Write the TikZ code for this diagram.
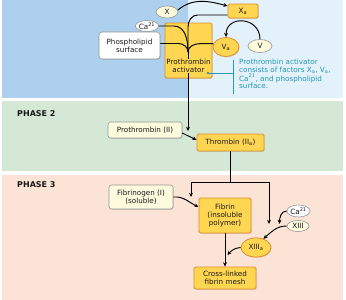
\documentclass[tikz,border=0pt]{standalone}
\usepackage{fontspec}
\setmainfont{DejaVu Sans}
\usetikzlibrary{arrows.meta,shadows,shapes.geometric}
\definecolor{bgdark}{RGB}{172,208,238}
\definecolor{bglight}{RGB}{227,241,251}
\definecolor{bggreen}{RGB}{213,232,214}
\definecolor{bgpeach}{RGB}{251,227,214}
\definecolor{yel}{RGB}{254,214,82}
\definecolor{orb}{RGB}{226,142,42}
\definecolor{cream}{RGB}{253,250,222}
\definecolor{tealc}{RGB}{38,152,186}
\definecolor{grayb}{RGB}{150,150,150}
\definecolor{txt}{RGB}{25,25,25}
\begin{document}
\begin{tikzpicture}[x=1pt,y=1pt,
  font=\fontsize{7.2}{8.2}\selectfont,
  every node/.style={inner sep=0pt,text=txt},
  shd/.style={drop shadow={opacity=0.3,shadow xshift=0.6pt,shadow yshift=-0.8pt}},
  ybox/.style={draw=orb,fill=yel,line width=0.8pt,rounded corners=1.5pt,shd,align=center},
  cbox/.style={draw=grayb,fill=cream,line width=0.6pt,rounded corners=2.5pt,shd,align=center},
  wbox/.style={draw=grayb,fill=white,line width=0.6pt,rounded corners=3pt,shd,align=center},
  yell/.style={ellipse,draw=orb,fill=yel,line width=0.8pt,shd},
  cell/.style={ellipse,draw=grayb,fill=cream,line width=0.6pt},
  well/.style={ellipse,draw=grayb,fill=white,line width=0.6pt},
  link/.style={line width=0.95pt,black},
  arr/.style={link,-{Stealth[length=4.2pt,width=3.8pt]}},
  darr/.style={link,{Stealth[length=4.2pt,width=3.8pt]}-{Stealth[length=4.2pt,width=3.8pt]}},
  phase/.style={font=\fontsize{8}{9}\selectfont\bfseries,anchor=west}]
\useasboundingbox (0,0) rectangle (346,-300);
% backgrounds
\fill[bgdark] (2,0) rectangle (188,-98);
\fill[bglight] (188,0) rectangle (343,-98);
\fill[bggreen] (2,-101) rectangle (343,-171);
\fill[bgpeach] (2,-175) rectangle (343,-300);

% ---------- Phase 1 ----------
\node[cell,minimum width=22,minimum height=12] (x) at (167,-12) {X};
\node[ybox,minimum width=30,minimum height=14] (xa) at (243,-11) {X\textsubscript{a}};
\node[well,minimum width=21,minimum height=11] (ca1) at (147,-26) {Ca\textsuperscript{21}};
\node[wbox,minimum width=61,minimum height=27] (phos) at (129.5,-45.5) {Phospholipid\\surface};
\node[ybox,minimum width=47,minimum height=55] (pa) at (188.5,-50.5) {};
\node[yell,minimum width=26,minimum height=19] (va) at (226,-47) {V\textsubscript{a}};
\node[cell,minimum width=24,minimum height=13] (v) at (260,-46) {V};

\coordinate (m) at (188,-52);
\coordinate (mend) at (188,-131);
\draw[arr] (x.10) to[out=40,in=165] ([yshift=5pt]xa.west);
\draw[link] ([yshift=-4pt]xa.west) -- ++(-30,0) to[out=180,in=90] ([yshift=25pt]m) -- (m);
\draw[link] (ca1.east) -- ++(15,0) to[out=0,in=90] (m);
\draw[link] ([yshift=2pt]phos.east) -- ++(18,0) to[out=0,in=90] (m);
\draw[link] (va.165) -- ++(-13,0) to[out=180,in=90] (m);
\draw[arr] (v.north) to[out=90,in=90,looseness=1.7] (va.north);
\draw[arr] (m) -- (mend);
\node[fill=yel,inner sep=0.6pt,align=center] (patext) at (188.5,-66) {Prothrombin\\activator};

% annotation
\coordinate (dot) at (208,-73);
\coordinate (brk) at (233,-73);
\coordinate (btop) at (233,-60);
\coordinate (bbot) at (233,-94);
\fill[tealc] (dot) circle (1.3pt);
\draw[tealc,line width=0.6pt] (dot) -- (brk);
\draw[tealc,line width=0.6pt] (btop) -- (bbot);
\node[anchor=north west,align=left,text=tealc,font=\fontsize{7.2}{7.5}\selectfont] (note) at (239,-59)
  {Prothrombin activator\\consists of factors X\textsubscript{a}, V\textsubscript{a},\\Ca\textsuperscript{21}, and phospholipid\\surface.};

% ---------- Phase 2 ----------
\node[phase] (p2) at (17,-114) {PHASE 2};
\node[cbox,minimum width=74,minimum height=16] (pII) at (145,-130) {Prothrombin (II)};
\node[ybox,minimum width=67,minimum height=17] (thr) at (230.5,-142.5) {Thrombin (II\textsubscript{a})};
\draw[arr] ([yshift=-3pt]pII.east) -- ([yshift=2.5pt]thr.west);

% ---------- Phase 3 ----------
\node[phase] (p3) at (17,-185) {PHASE 3};
\node[cbox,minimum width=64,minimum height=24] (fgn) at (141,-197) {Fibrinogen (I)\\(soluble)};
\node[ybox,minimum width=52,minimum height=35] (fib) at (225,-215.5) {Fibrin\\(insoluble\\polymer)};
\node[well,minimum width=23,minimum height=12] (ca2) at (298.5,-211) {Ca\textsuperscript{21}};
\node[cell,minimum width=22,minimum height=11] (xiii) at (298,-226) {XIII};
\node[yell,minimum width=30,minimum height=19] (xiiia) at (256,-247.5) {XIII\textsubscript{a}};
\node[ybox,minimum width=62,minimum height=22] (cross) at (225,-278) {Cross-linked\\fibrin mesh};

\coordinate (jt) at (230.5,-182);
\coordinate (fl) at (191,-197);
\coordinate (jr) at (269,-182);
\coordinate (fr) at (269,-224);
\coordinate (cat) at (279.5,-224);
\coordinate (xt) at (227.5,-255);
\draw[link] (thr.south) -- (jt);
\draw[darr] (fl) |- (jr) -- (fr);
\draw[arr] (fgn.east) to[out=5,in=155] ([yshift=8.5pt]fib.west);
\draw[arr] (ca2.west) to[out=180,in=90] (cat);
\draw[arr] (xiii.west) to[out=180,in=40] (xiiia.50);
\draw[arr] (fib.south) -- (cross.north);
\draw[arr] (xiiia.west) to[out=185,in=50] (xt);
\end{tikzpicture}
\end{document}
